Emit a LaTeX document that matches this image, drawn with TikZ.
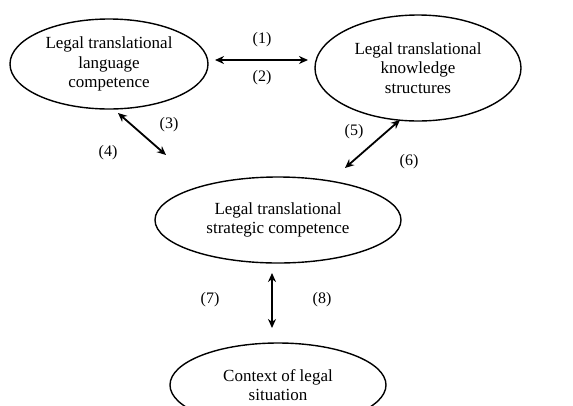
\documentclass[tikz,border=0pt]{standalone}
\usepackage{fontspec}
\setmainfont{Liberation Serif}
\usetikzlibrary{shapes.geometric,arrows.meta}
\begin{document}
\begin{tikzpicture}[>={Stealth[length=9pt,width=8pt]}, x=1pt, y=-1pt,
comp/.style={draw, ellipse, line width=1.4pt, inner sep=0pt, align=center, font=\fontsize{17}{19.5}\selectfont},
link/.style={<->, line width=1.8pt},
num/.style={font=\fontsize{16}{18}\selectfont}]

\clip (0,0) rectangle (573,405);

\node[comp, minimum width=198pt, minimum height=90pt] (lang) at(109,64){Legal translational\\language\\competence};

\node[comp, minimum width=206pt, minimum height=106pt] (know) at(418,68){Legal translational\\knowledge\\structures};

\node[comp, minimum width=246pt, minimum height=86pt] (strat) at(278,220){Legal translational\\strategic competence};

\node[comp, minimum width=216pt, minimum height=84pt] (ctx) at(278,385){Context of legal\\situation};

\coordinate (a1) at(215,60);
\coordinate (b1) at(308,60);
\draw[link] (a1)--(b1);

\node[num] (n1) at(262,40){(1)};

\node[num] (n2) at(262,78){(2)};

\coordinate (a3) at(118,113);
\coordinate (b3) at(166,155);
\draw[link] (a3)--(b3);

\node[num] (n3) at(169,125){(3)};

\node[num] (n4) at(108,153){(4)};

\coordinate (a5) at(400,120);
\coordinate (b5) at(345,168);
\draw[link] (a5)--(b5);

\node[num] (n5) at(354,132){(5)};

\node[num] (n6) at(409,162){(6)};

\coordinate (a7) at(272,273);
\coordinate (b7) at(272,328);
\draw[link] (a7)--(b7);

\node[num] (n7) at(210,300){(7)};

\node[num] (n8) at(322,300){(8)};

\end{tikzpicture}
\end{document}
